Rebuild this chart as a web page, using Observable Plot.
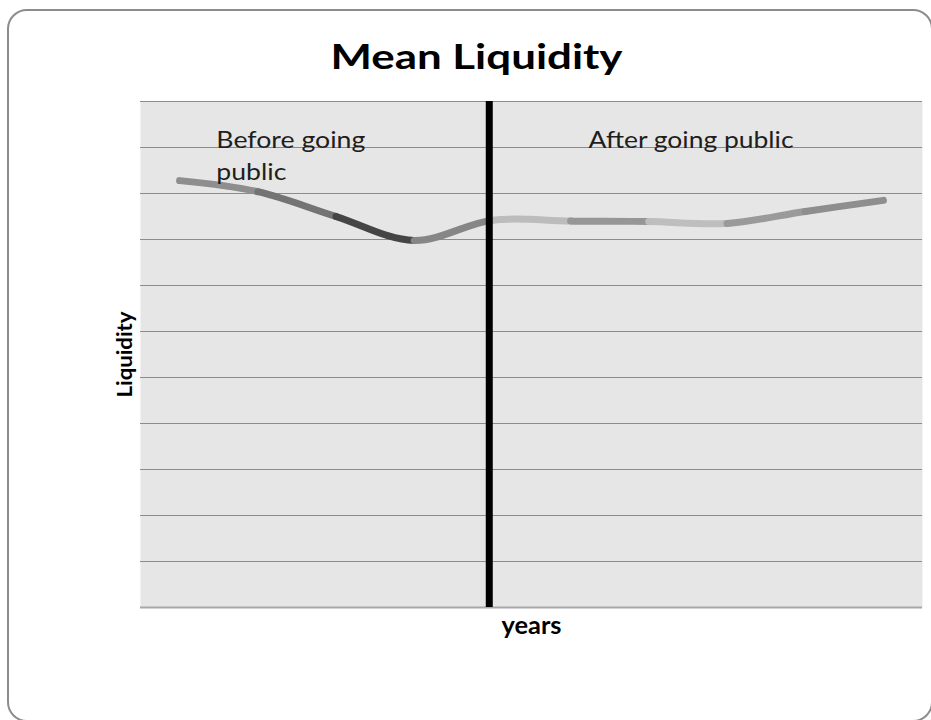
<!DOCTYPE html>
<html>
<head>
<meta charset="utf-8">
<script src="https://cdn.jsdelivr.net/npm/d3@7"></script>
<script src="https://cdn.jsdelivr.net/npm/@observablehq/plot@0.6"></script>
<style>
  html, body { margin: 0; padding: 0; background: #fff; overflow: hidden; }
  #wrap { position: relative; width: 931px; height: 720px; }
  #border {
    position: absolute; left: 7px; top: 9px; width: 926px; height: 713px;
    box-sizing: border-box; border: 2px solid #8c8c8c; border-radius: 20px;
  }
  #chart { position: absolute; left: 0; top: 0; }
</style>
</head>
<body>
<div id="wrap"><div id="border"></div><div id="chart"></div></div>
<script>
// ---- data ----
const years = [1, 2, 3, 4, 5, 6, 7, 8, 9, 10];
const liquidity = [9.28, 9.04, 8.50, 7.98, 8.42, 8.40, 8.39, 8.35, 8.61, 8.85];
const segmentColors = ["#8e8e8e", "#747474", "#454545", "#868686", "#bcbcbc", "#969696", "#bebebe", "#9a9a9a", "#8e8e8e"];
const gridValues = [0, 1, 2, 3, 4, 5, 6, 7, 8, 9, 10, 11];
const ipoYear = 4.96;
const annotationTexts = ["Before going\npublic", "After going public"];
const annotationX = [1.47, 6.23];
const annotationY = [9.30, 10.0];
const titleText = "Mean Liquidity";
const xLabel = "years";
const yLabel = "Liquidity";

// target text widths (px) to mimic the reference's stretched Calibri lettering
const textWidths = {
  "Mean Liquidity": 292, "years": 60, "Liquidity": 86,
  "After going public": 205, "Before going": 149, "public": 70
};

const data = years.map((year, i) => ({year, value: liquidity[i]}));
const annotations = annotationTexts.map((text, i) => ({text, x: annotationX[i], y: annotationY[i]}));
// round "caps" where each coloured segment starts
const caps = years.slice(1, years.length - 1).map((year, k) => ({year, value: liquidity[k + 1], color: segmentColors[k + 1]}));

const chart = Plot.plot({
  width: 931,
  height: 720,
  marginLeft: 140,
  marginRight: 9,
  marginTop: 101,
  marginBottom: 113,
  x: {domain: [0.5, 10.5], axis: null},
  y: {domain: [0, 11], axis: null},
  color: {type: "identity"},
  style: {fontFamily: "Lato, 'Open Sans', sans-serif", background: "transparent", overflow: "visible"},
  marks: [
    Plot.frame({fill: "#e6e6e6", stroke: null}),
    Plot.ruleY(gridValues, {stroke: "#8c8c8c", strokeWidth: 1}),
    Plot.ruleY([gridValues[0]], {stroke: "#a8a8a8", strokeWidth: 2}),
    Plot.line(data, {x: "year", y: "value", curve: "catmull-rom", stroke: segmentColors[0], strokeWidth: 7, strokeLinecap: "round"}),
    Plot.dot(caps, {x: "year", y: "value", r: 3.5, fill: "color"}),
    Plot.text(annotations, {x: "x", y: "y", text: "text", textAnchor: "start", lineAnchor: "bottom", lineHeight: 1.36, fontSize: 23.5, fill: "#1e1e1e"}),
    Plot.ruleX([ipoYear], {y1: gridValues[0], y2: gridValues[gridValues.length - 1], stroke: "#000", strokeWidth: 7}),
    Plot.text([titleText], {frameAnchor: "top", dx: -55, dy: -33, lineAnchor: "bottom", fontSize: 35, fontWeight: "bold", fill: "#000"}),
    Plot.text([xLabel], {frameAnchor: "bottom", dy: 26, lineAnchor: "bottom", fontSize: 24, fontWeight: "bold", fill: "#000"}),
    Plot.text([yLabel], {frameAnchor: "left", textAnchor: "middle", dx: -15, rotate: -90, fontSize: 21, fontWeight: "bold", fill: "#000"})
  ]
});

document.getElementById("chart").appendChild(chart);

// colour each segment of the smoothed line separately (as in the reference)
const xs = chart.scale("x");
const svg = d3.select(chart);
const linePath = svg.select('g[aria-label="line"] path');
if (!linePath.empty()) {
  const defs = svg.insert("defs", ":first-child");
  const g = d3.select(linePath.node().parentNode);
  segmentColors.forEach((color, i) => {
    const left = i === 0 ? 0 : xs.apply(years[i]);
    const right = i === segmentColors.length - 1 ? 931 : xs.apply(years[i + 1]);
    defs.append("clipPath").attr("id", "seg" + i)
      .append("rect").attr("x", left).attr("y", 0).attr("width", right - left).attr("height", 720);
    const clone = linePath.node().cloneNode(true);
    g.node().appendChild(clone);
    d3.select(clone).attr("stroke", color).attr("clip-path", "url(#seg" + i + ")");
  });
  linePath.remove();
}

// stretch text to reference widths
svg.selectAll("text, tspan").each(function () {
  if (this.tagName === "text" && this.querySelector("tspan")) return;
  const w = textWidths[this.textContent];
  if (w) d3.select(this).attr("textLength", w).attr("lengthAdjust", "spacingAndGlyphs");
});
</script>
</body>
</html>
